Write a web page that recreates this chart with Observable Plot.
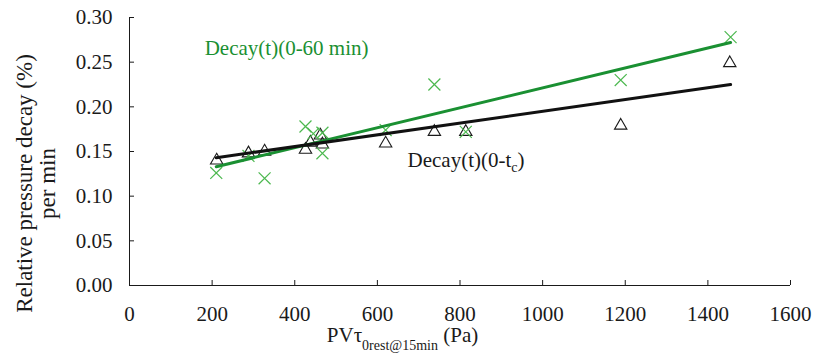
<!DOCTYPE html>
<html><head><meta charset="utf-8">
<script src="https://cdn.jsdelivr.net/npm/d3@7"></script>
<script src="https://cdn.jsdelivr.net/npm/@observablehq/plot@0.6"></script>
<style>body{margin:0;background:#fff}</style>
</head><body><div id="chart"></div>
<script>
const xTicks = [0, 200, 400, 600, 800, 1000, 1200, 1400, 1600];
const yTicks = [0, 0.05, 0.10, 0.15, 0.20, 0.25, 0.30];
// Decay(t)(0-tc) – black triangles
const tcX = [211, 288, 327, 426, 438, 462, 467, 620, 738, 814, 1189, 1453];
const tcY = [0.140, 0.148, 0.150, 0.152, 0.160, 0.168, 0.158, 0.159, 0.172, 0.172, 0.179, 0.249];
// Decay(t)(0-60 min) – green crosses
const minX = [210, 288, 327, 426, 445, 467, 467, 620, 738, 814, 1189, 1455];
const minY = [0.126, 0.145, 0.120, 0.178, 0.170, 0.171, 0.148, 0.174, 0.225, 0.172, 0.230, 0.278];
// trend lines
const fitX = [210, 1455];
const fitMin = [0.133, 0.272];
const fitTc = [0.143, 0.225];
const yTitle = "Relative pressure decay (%)\nper min";
const xTitleMain = "PVτ";
const xTitleSub = "0rest@15min";
const xTitleEnd = " (Pa)";
const labelMin = "Decay(t)(0-60 min)";
const labelTcMain = "Decay(t)(0-t";
const labelTcSub = "c";
const labelTcEnd = ")";

const tcData = tcX.map((x, i) => ({x, y: tcY[i]}));
const minData = minX.map((x, i) => ({x, y: minY[i]}));
const fitMinData = fitX.map((x, i) => ({x, y: fitMin[i]}));
const fitTcData = fitX.map((x, i) => ({x, y: fitTc[i]}));

const green = "#1a9032";
const lightGreen = "#4cb84f";
const serif = "Liberation Serif";

const chart = Plot.plot({
  width: 814, height: 362,
  marginLeft: 129, marginRight: 24, marginTop: 17, marginBottom: 77,
  style: {fontFamily: serif, fontSize: "21px", color: "#1a1a1a", background: "#fff"},
  x: {domain: [0, 1600], label: null},
  y: {domain: [0, 0.30], label: null},
  marks: [
    Plot.axisX({ticks: xTicks, tickSize: -5, tickFormat: () => "", tickPadding: 0, label: null}),
    Plot.axisX({ticks: xTicks, tickSize: 0, tickPadding: 21, tickFormat: d => String(d), fontSize: 21, label: null}),
    Plot.axisY({ticks: yTicks, tickSize: -5, tickFormat: () => "", tickPadding: 0, label: null}),
    Plot.axisY({ticks: yTicks, tickSize: 0, tickPadding: 17, tickFormat: d3.format(".2f"), fontSize: 21, label: null}),
    Plot.ruleY([0], {stroke: "#1a1a1a"}),
    Plot.ruleX([0], {stroke: "#1a1a1a"}),
    Plot.dot(tcData, {x: "x", y: "y", symbol: "triangle", r: 4.6, stroke: "#1a1a1a", fill: "none", strokeWidth: 1.1}),
    Plot.dot(minData, {x: "x", y: "y", symbol: "times", r: 5.5, stroke: lightGreen, strokeWidth: 1.2}),
    Plot.line(fitMinData, {x: "x", y: "y", stroke: green, strokeWidth: 3}),
    Plot.line(fitTcData, {x: "x", y: "y", stroke: "#111", strokeWidth: 3}),
    Plot.text([labelMin], {x: 182, y: 0.266, text: d => d, textAnchor: "start", fill: green, fontSize: 21}),
    Plot.text([labelTcMain + labelTcSub + labelTcEnd], {x: 673, y: 0.140, text: d => d, textAnchor: "start", fill: "#1a1a1a", fontSize: 21}),
    Plot.text([yTitle], {frameAnchor: "left", textAnchor: "middle", dx: -93.5, dy: 32, rotate: -90, text: d => d, fontSize: 23, lineHeight: 1.0}),
    Plot.text([xTitleMain + xTitleSub + xTitleEnd], {frameAnchor: "bottom", textAnchor: "middle", lineAnchor: "middle", dx: -57.5, dy: 50, text: d => d, fontSize: 21})
  ]
});
document.getElementById("chart").appendChild(chart);
d3.select(chart).selectAll("text, tspan").attr("font-family", serif).style("font-family", serif);

// subscripts
function subscriptify(full, main, sub, end, subSize, shift) {
  d3.select(chart).selectAll("text").each(function() {
    if (this.textContent === full && this.querySelector("tspan") == null) {
      const t = d3.select(this);
      t.text(null);
      t.append("tspan").text(main);
      t.append("tspan").attr("dy", shift).attr("font-size", subSize).text(sub);
      t.append("tspan").attr("dy", -shift).text(end);
    }
  });
}
subscriptify(xTitleMain + xTitleSub + xTitleEnd, xTitleMain, xTitleSub, xTitleEnd, 14, 8);
subscriptify(labelTcMain + labelTcSub + labelTcEnd, labelTcMain, labelTcSub, labelTcEnd, 14, 5);
</script>
</body></html>
